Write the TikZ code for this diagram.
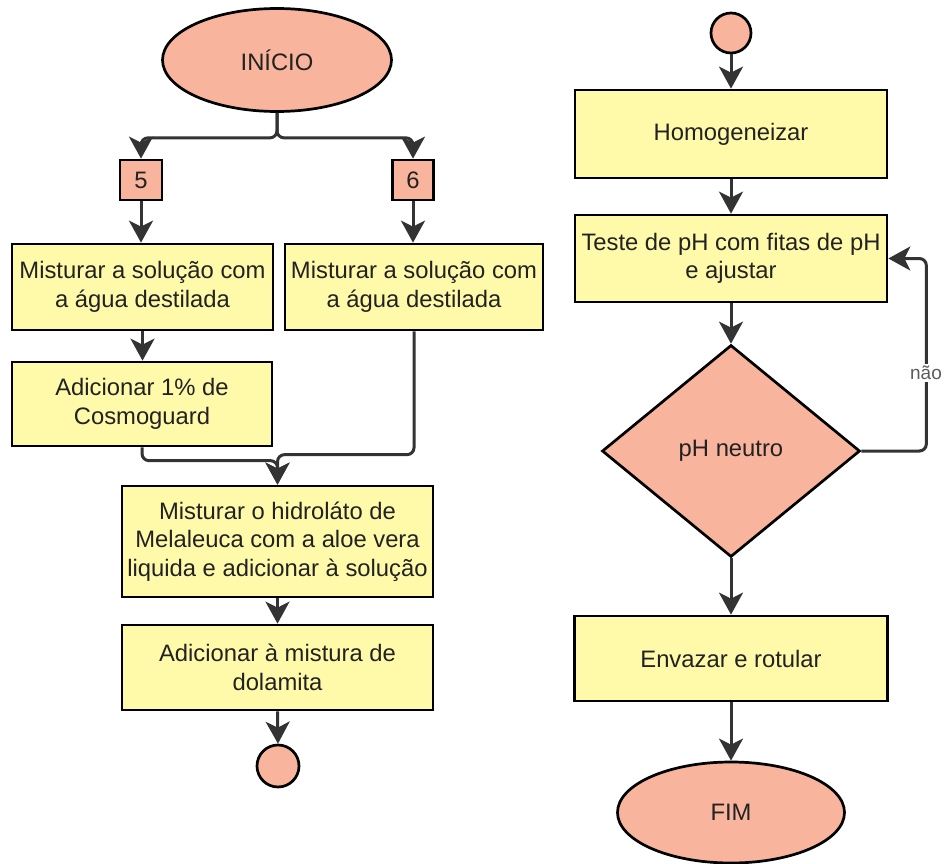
\documentclass[tikz,border=0pt]{standalone}
\usepackage{fontspec}
\setmainfont{Liberation Sans}
\usetikzlibrary{shapes.geometric,arrows.meta,calc}
\definecolor{boxyellow}{RGB}{255,250,170}
\definecolor{salmon}{RGB}{248,180,156}
\definecolor{ink}{RGB}{51,51,51}
\definecolor{txt}{RGB}{34,34,34}
\begin{document}
\begin{tikzpicture}[x=1pt,y=-1pt,
  base/.style={draw=black, line width=2.7pt, text=txt, align=center, inner sep=0pt,
    font=\fontsize{23.8}{28.5}\selectfont},
  procbox/.style={base, rectangle, fill=boxyellow},
  refbox/.style={base, rectangle, fill=salmon},
  terminal/.style={base, ellipse, fill=salmon},
  connector/.style={base, circle, fill=salmon, minimum size=#1},
  decision/.style={base, diamond, fill=salmon},
  conn/.style={draw=ink, line width=3pt, -{Stealth[length=22pt,width=24pt,inset=6pt]}},
  lbl/.style={fill=white, text=ink!80, inner sep=2pt, font=\fontsize{19}{21}\selectfont}
]
\useasboundingbox (0,0) rectangle (946,864);

% left column
\node[terminal, minimum width=229pt, minimum height=103pt] (inicio) at (277,60) {INÍCIO};
\node[refbox, minimum width=42pt, minimum height=40pt] (n5) at (141,180) {5};
\node[refbox, minimum width=41pt, minimum height=40pt] (n6) at (413,180) {6};
\node[procbox, minimum width=261pt, minimum height=86pt] (mixA) at (142.5,287) {Misturar a solução com\\a água destilada};
\node[procbox, minimum width=258pt, minimum height=86pt] (mixB) at (414,287) {Misturar a solução com\\a água destilada};
\node[procbox, minimum width=260pt, minimum height=84pt] (cosmo) at (142,404) {Adicionar 1\% de\\Cosmoguard};
\node[procbox, minimum width=311pt, minimum height=111pt] (hidro) at (277.5,541.5) {Misturar o hidroláto de\\Melaleuca com a aloe vera\\liquida e adicionar à solução};
\node[procbox, minimum width=311pt, minimum height=85pt] (dola) at (277.5,667.5) {Adicionar à mistura de\\dolamita};
\node[connector=42pt] (endA) at (278,766) {};

% right column
\node[connector=40pt] (startB) at (731,33) {};
\node[procbox, minimum width=312pt, minimum height=88pt] (homog) at (731,134) {Homogeneizar};
\node[procbox, minimum width=312pt, minimum height=87pt] (teste) at (731,258.5) {Teste de pH com fitas de pH\\e ajustar};
\node[decision, minimum width=258pt, minimum height=212pt, aspect=1.217] (ph) at (731,451) {pH neutro};
\node[procbox, minimum width=313pt, minimum height=85pt] (envazar) at (731,658.5) {Envazar e rotular};
\node[terminal, minimum width=227pt, minimum height=101pt] (fim) at (731,812.5) {FIM};

% fork from the start
\coordinate (fork) at ($(inicio.south)+(0,25)$);
\draw[conn, rounded corners=7pt] (inicio.south) -- (fork) -| (n5.north);
\draw[conn, rounded corners=7pt] (inicio.south) -- (fork) -| (n6.north);

% left branches
\draw[conn] (n5.south) -- (n5.south |- mixA.north);
\draw[conn] (n6.south) -- (n6.south |- mixB.north);
\draw[conn] (mixA.south) -- (mixA.south |- cosmo.north);

% merge into the mixing step
\draw[conn, rounded corners=7pt] (cosmo.south) |- ($(hidro.north)+(0,-24)$) -- (hidro.north);
\draw[conn, rounded corners=7pt] (mixB.south) |- ($(hidro.north)+(0,-30)$) -- (hidro.north);
\draw[conn] (hidro.south) -- (dola.north);
\draw[conn] (dola.south) -- (endA.north);

% right column flow
\draw[conn] (startB.south) -- (homog.north);
\draw[conn] (homog.south) -- (teste.north);
\draw[conn] (teste.south) -- (ph.north);
\draw[conn] (ph.south) -- (envazar.north);
\draw[conn] (envazar.south) -- (fim.north);

% loop back when pH is not neutral
\coordinate (loopc) at ($(ph.east)+(65,0)$);
\draw[conn, rounded corners=7pt] (ph.east) -- (loopc) |- (teste.east);
\node[lbl] (nao) at (926,373) {não};
\end{tikzpicture}
\end{document}
